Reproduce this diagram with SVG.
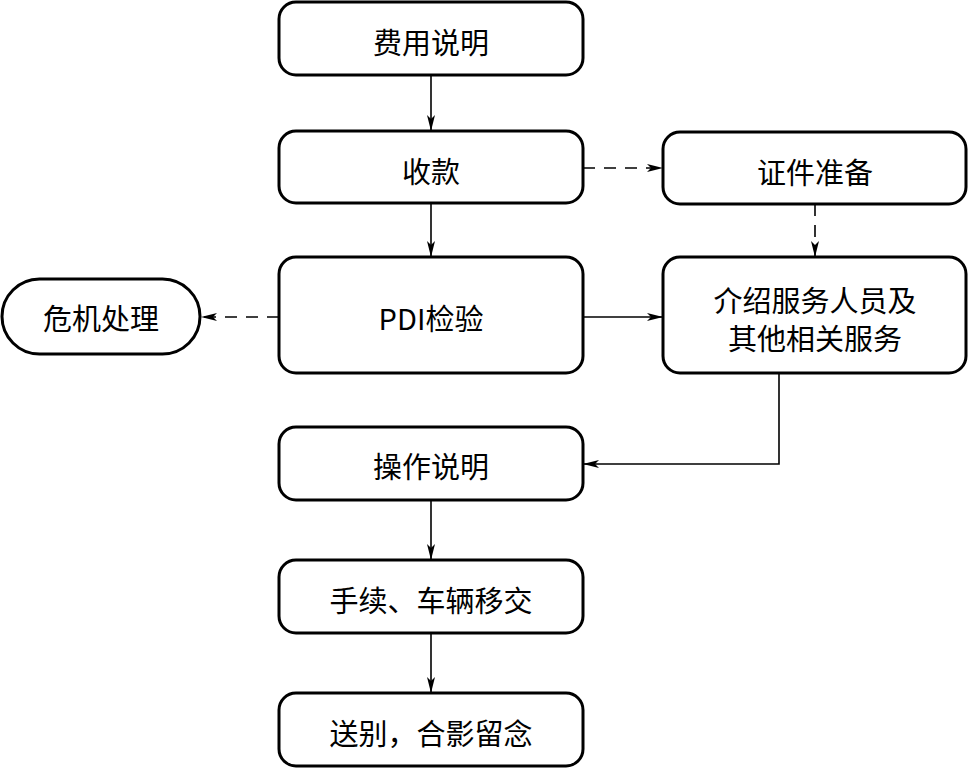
<svg xmlns="http://www.w3.org/2000/svg" width="968" height="768" viewBox="0 0 968 768">
<style>
.box{fill:#fff;stroke:#000;stroke-width:3}
.t{font-family:"Noto Sans CJK SC","Noto Sans",sans-serif;font-size:29px;fill:#000;text-anchor:middle;dominant-baseline:central}
.c{fill:none;stroke:#000;stroke-width:1.6}
.d{stroke-dasharray:12 9}
</style>
<defs>
<marker id="ah" viewBox="0 0 16 8" refX="16" refY="4" markerWidth="16" markerHeight="8" markerUnits="userSpaceOnUse" orient="auto">
<path d="M0,0 L16,4 L0,8 L4,4 Z" fill="#000"/>
</marker>
</defs>
<rect width="968" height="768" fill="#fff"/>
<g id="connectors">
<path class="c" d="M431,75 V131" marker-end="url(#ah)"/>
<path class="c d" d="M583,168 H663" marker-end="url(#ah)"/>
<path class="c" d="M431,203 V257" marker-end="url(#ah)"/>
<path class="c d" d="M815,204 V257" marker-end="url(#ah)"/>
<path class="c" d="M583,317 H663" marker-end="url(#ah)"/>
<path class="c d" d="M279,317 H201" marker-end="url(#ah)"/>
<path class="c" d="M779,373 V464 H583" marker-end="url(#ah)"/>
<path class="c" d="M431,500 V560" marker-end="url(#ah)"/>
<path class="c" d="M431,633 V693" marker-end="url(#ah)"/>
</g>
<g id="n1"><rect class="box" x="279" y="2" width="304" height="73" rx="17"/><text class="t" x="431" y="41">费用说明</text></g>
<g id="n2"><rect class="box" x="279" y="131" width="304" height="72" rx="17"/><text class="t" x="431" y="170">收款</text></g>
<g id="n3"><rect class="box" x="663" y="132" width="303" height="72" rx="17"/><text class="t" x="815" y="171">证件准备</text></g>
<g id="n4"><rect class="box" x="279" y="257" width="304" height="116" rx="17"/><text class="t" x="431" y="317">PDI检验</text></g>
<g id="n5"><rect class="box" x="663" y="257" width="303" height="116" rx="17"/><text class="t" x="815" y="299">介绍服务人员及</text><text class="t" x="815" y="337">其他相关服务</text></g>
<g id="n6"><rect class="box" x="2" y="279" width="198" height="75" rx="37.5"/><text class="t" x="101" y="317">危机处理</text></g>
<g id="n7"><rect class="box" x="279" y="427" width="304" height="73" rx="17"/><text class="t" x="431" y="465">操作说明</text></g>
<g id="n8"><rect class="box" x="279" y="560" width="304" height="73" rx="17"/><text class="t" x="431" y="599">手续、车辆移交</text></g>
<g id="n9"><rect class="box" x="279" y="693" width="304" height="73" rx="17"/><text class="t" x="431" y="732">送别，合影留念</text></g>
</svg>
